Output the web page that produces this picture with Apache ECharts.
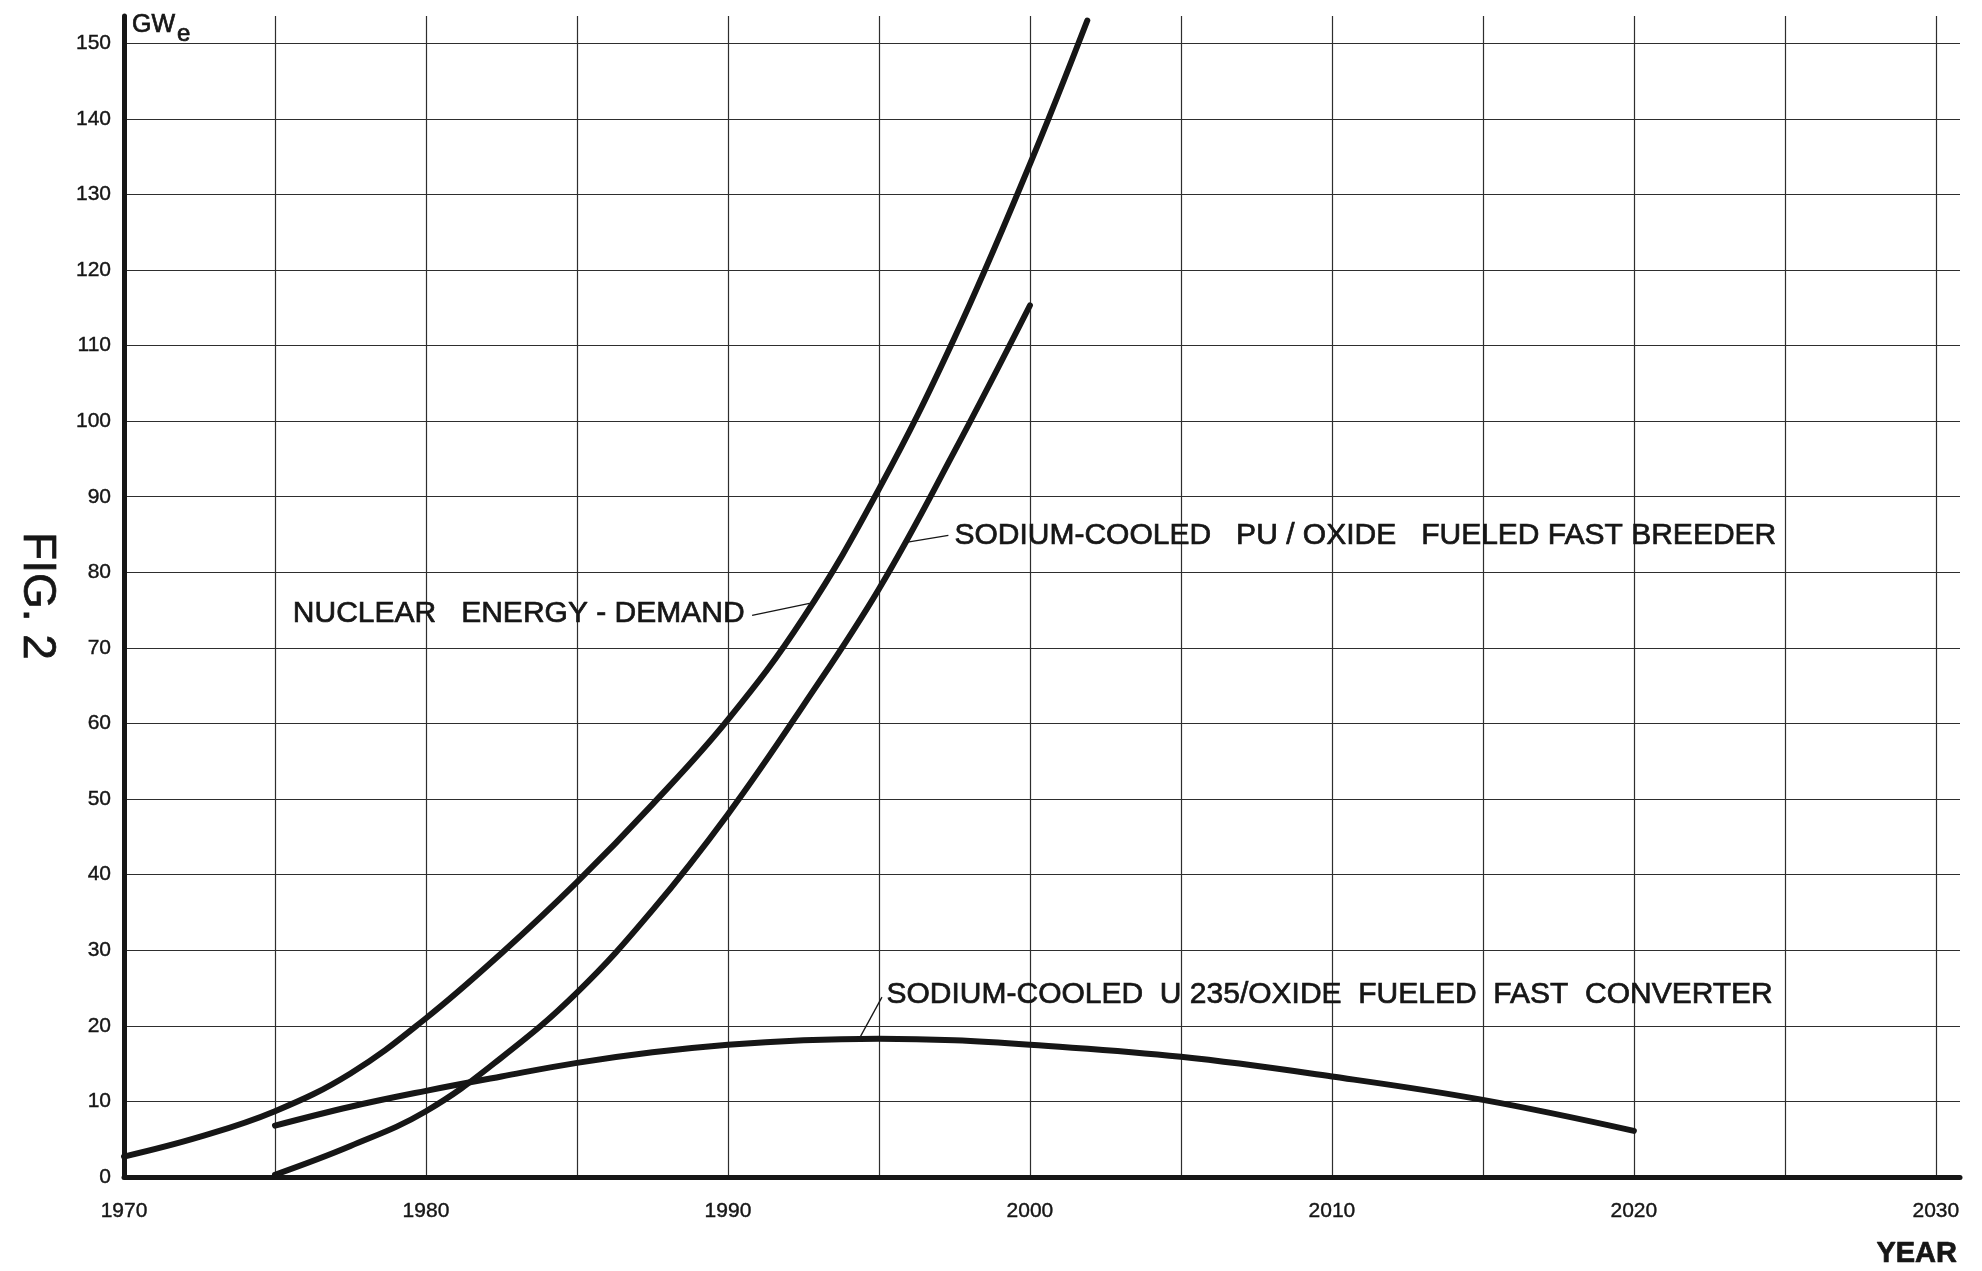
<!DOCTYPE html>
<html>
<head>
<meta charset="utf-8">
<title>Fig. 2 - Nuclear energy demand</title>
<script src="https://cdn.jsdelivr.net/npm/echarts@6/dist/echarts.min.js"></script>
<style>
  html, body { margin: 0; padding: 0; background: #fff; }
  #chart { width: 1982px; height: 1271px; }
</style>
</head>
<body>
<div id="chart"></div>
<script>
// values, GWe per year
const demandYears = [1970, 1972.5, 1975, 1977.5, 1980, 1982.5, 1985, 1987.5, 1990, 1992.5, 1995, 1997.5, 2000, 2001.9];
const demandValues = [2.7, 5.3, 8.7, 13.7, 21, 29.6, 39, 49.3, 60.5, 74, 91, 111, 134, 153];

const breederYears = [1975, 1977.5, 1980, 1982.5, 1985, 1987.5, 1990, 1992.5, 1995, 1997.5, 2000];
const breederValues = [0.3, 4.1, 8.7, 15.8, 24.4, 35.3, 48, 62.4, 77.8, 96, 115.3];

const converterYears = [1975, 1977.5, 1980, 1982.5, 1985, 1987.5, 1990, 1992.5, 1995, 1997.5, 2000, 2005, 2010, 2015, 2020];
const converterValues = [6.8, 9.3, 11.4, 13.3, 15.1, 16.5, 17.5, 18.1, 18.3, 18.1, 17.5, 15.9, 13.3, 10.2, 6.1];

// tick labels
const yearLabels = [1970, 1980, 1990, 2000, 2010, 2020, 2030];
const gweLabels = [0, 10, 20, 30, 40, 50, 60, 70, 80, 90, 100, 110, 120, 130, 140, 150];

// curve captions and their leader lines (data coords)
const demandCaption = "NUCLEAR   ENERGY - DEMAND";
const breederCaption = "SODIUM-COOLED   PU / OXIDE   FUELED FAST BREEDER";
const converterCaption = "SODIUM-COOLED  U 235/OXIDE  FUELED  FAST  CONVERTER";
const demandLeader = [[1990.8, 74.3], [1992.7, 75.9]];
const breederLeader = [[1997.3, 84.9], [1995.8, 83.9]];
const converterLeader = [[1995.1, 23.8], [1994.35, 18.3]];

const FONT = "'Liberation Sans', Arial, sans-serif";
const INK = "#161616";
const GRID = "#2e2e2e";

function pairs(xs, ys) {
  return xs.map((x, i) => [x, ys[i]]);
}

function curve(name, xs, ys, leader) {
  return {
    name: name,
    type: "line",
    data: pairs(xs, ys),
    smooth: 0.4,
    symbol: "none",
    showSymbol: false,
    lineStyle: { color: INK, width: 6, cap: "round", join: "round" },
    markLine: {
      silent: true,
      symbol: "none",
      label: { show: false },
      lineStyle: { color: INK, width: 1.3, type: "solid" },
      data: [[{ coord: leader[0] }, { coord: leader[1] }]],
    },
  };
}

let chart = echarts.init(document.getElementById("chart"));

let tickLabel = {
  color: INK,
  fontFamily: FONT,
  fontSize: 21,
  textBorderColor: INK,
  textBorderWidth: 0.4,
};

let option = {
  animation: false,
  backgroundColor: "#fff",
  grid: { left: 124, right: 22, top: 16, bottom: 94 },
  xAxis: {
    type: "value",
    min: 1970,
    max: 2030.8,
    interval: 5,
    axisLine: { show: true, onZero: false, lineStyle: { color: INK, width: 5 } },
    axisTick: { show: false },
    splitLine: { show: true, showMaxLine: false, lineStyle: { color: GRID, width: 1.2 } },
    axisLabel: Object.assign({}, tickLabel, {
      showMaxLabel: false,
      margin: 24,
      formatter: function (v) {
        return yearLabels.indexOf(v) >= 0 ? String(v) : "";
      },
    }),
  },
  yAxis: {
    type: "value",
    min: 0,
    max: 153.6,
    interval: 10,
    axisLine: { show: true, lineStyle: { color: INK, width: 5 } },
    axisTick: { show: false },
    splitLine: { show: true, showMaxLine: false, lineStyle: { color: GRID, width: 1.2 } },
    axisLabel: Object.assign({}, tickLabel, {
      showMaxLabel: false,
      margin: 13,
      formatter: function (v) {
        return gweLabels.indexOf(v) >= 0 ? String(v) : "";
      },
    }),
  },
  series: [
    curve("Nuclear energy demand", demandYears, demandValues, demandLeader),
    curve("Pu/oxide fast breeder", breederYears, breederValues, breederLeader),
    curve("U235/oxide fast converter", converterYears, converterValues, converterLeader),
  ],
};

chart.setOption(option);

// captions are placed through the axes so they follow the scale
function at(pt) {
  return chart.convertToPixel({ gridIndex: 0 }, pt);
}

function textEl(text, x, y, font, align, extra) {
  return Object.assign({
    type: "text",
    x: x,
    y: y,
    style: {
      text: text,
      font: font,
      fill: INK,
      stroke: INK,
      lineWidth: 0.7,
      align: align,
      verticalAlign: "middle",
      textAlign: align,
      textVerticalAlign: "middle",
    },
  }, extra || {});
}

function caption(text, pt, align) {
  let p = at(pt);
  return textEl(text, p[0], p[1], "30px " + FONT, align);
}

let topLeft = at([1970, 153.6]);
let bottomRight = at([2030.8, 0]);

chart.setOption({
  graphic: [
    caption(demandCaption, [1990.55, 74.5], "right"),
    caption(breederCaption, [1997.5, 84.8], "left"),
    caption(converterCaption, [1995.25, 24.1], "left"),
    textEl("GW", topLeft[0] + 8, topLeft[1] + 9, "25px " + FONT, "left"),
    textEl("e", topLeft[0] + 53, topLeft[1] + 18, "24px " + FONT, "left"),
    textEl("YEAR", bottomRight[0] - 3, bottomRight[1] + 77, "bold 29px " + FONT, "right"),
    textEl("FIG. 2", 37, 596, "46px " + FONT, "center", { rotation: -Math.PI / 2 }),
  ],
});
</script>
</body>
</html>
